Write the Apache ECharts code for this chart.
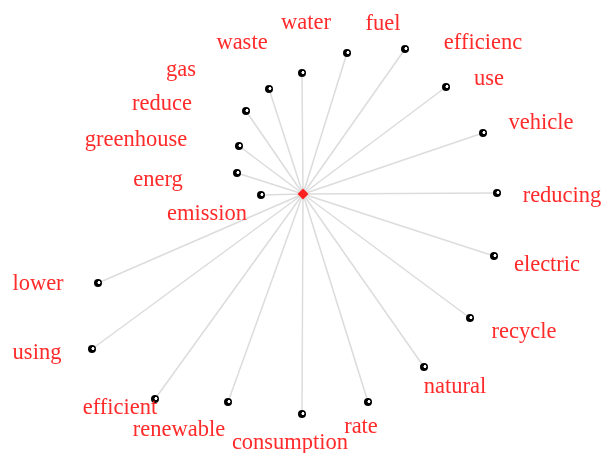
<!DOCTYPE html>
<html>
<head>
<meta charset="utf-8">
<script src="https://cdn.jsdelivr.net/npm/echarts@6/dist/echarts.min.js"></script>
<style>
  html, body { margin: 0; padding: 0; background: #fff; }
  #chart { width: 601px; height: 453px; }
</style>
</head>
<body>
<div id="chart"></div>
<script>
// centre word and its neighbours (position)
const centerWord = 'emission'
const centerPos = [303, 194]

const words = ['lower', 'using', 'efficient', 'renewable', 'consumption', 'rate', 'natural',
  'recycle', 'electric', 'reducing', 'vehicle', 'use', 'efficienc', 'fuel', 'water',
  'waste', 'gas', 'reduce', 'greenhouse', 'energ']
const wordX = [98, 92, 155, 228, 302, 368, 424, 470, 494, 497, 483, 446, 405, 347, 302,
  269, 246, 239, 237, 261]
const wordY = [283, 349, 399, 402, 414, 402, 367, 318, 256, 193, 133, 87, 49, 53, 73,
  89, 111, 146, 173, 195]

// where each label sits relative to its node
const labelShift = [
  [-60, 1], [-55, 4], [-35, 9], [-49, 28], [-12, 29], [-7, 25], [31, 20],
  [54, 14], [53, 9], [65, 3], [58, -10], [43, -8], [78, -6], [36, -29], [4, -50],
  [-27, -46], [-65, -41], [-77, -42], [-101, -33], [-103, -15]
]

const chart = echarts.init(document.getElementById('chart'))

const leafStyle = {
  color: {
    type: 'radial', x: 0.62, y: 0.45, r: 0.5,
    colorStops: [
      { offset: 0, color: '#ffffff' },
      { offset: 0.3, color: '#ffffff' },
      { offset: 0.45, color: '#000000' },
      { offset: 1, color: '#000000' }
    ]
  }
}

const nodes = [{
  name: centerWord,
  value: centerPos,
  symbol: 'diamond',
  symbolSize: 11,
  itemStyle: { color: '#ff2020' },
  label: { offset: [-96, 20] }
}]
const links = []
words.forEach((w, i) => {
  nodes.push({
    name: w,
    value: [wordX[i], wordY[i]],
    symbol: 'circle',
    symbolSize: 8,
    itemStyle: leafStyle,
    label: { offset: labelShift[i] }
  })
  links.push({ source: centerWord, target: w })
})

chart.setOption({
  backgroundColor: '#fff',
  animation: false,
  grid: { left: 0, right: 0, top: 0, bottom: 0 },
  xAxis: { type: 'value', min: 0, max: 601, show: false },
  yAxis: { type: 'value', min: 0, max: 453, inverse: true, show: false },
  series: [{
    type: 'graph',
    coordinateSystem: 'cartesian2d',
    layout: 'none',
    data: nodes,
    links: links,
    z: 3,
    label: {
      show: true,
      position: 'inside',
      formatter: '{b}',
      color: '#ff2a2a',
      fontFamily: 'Liberation Serif',
      fontSize: 22.5,
      align: 'center',
      verticalAlign: 'middle'
    },
    lineStyle: {
      color: '#dcdcdc',
      width: 1.5,
      opacity: 1,
      curveness: 0
    },
    emphasis: { disabled: true }
  }]
})
</script>
</body>
</html>
